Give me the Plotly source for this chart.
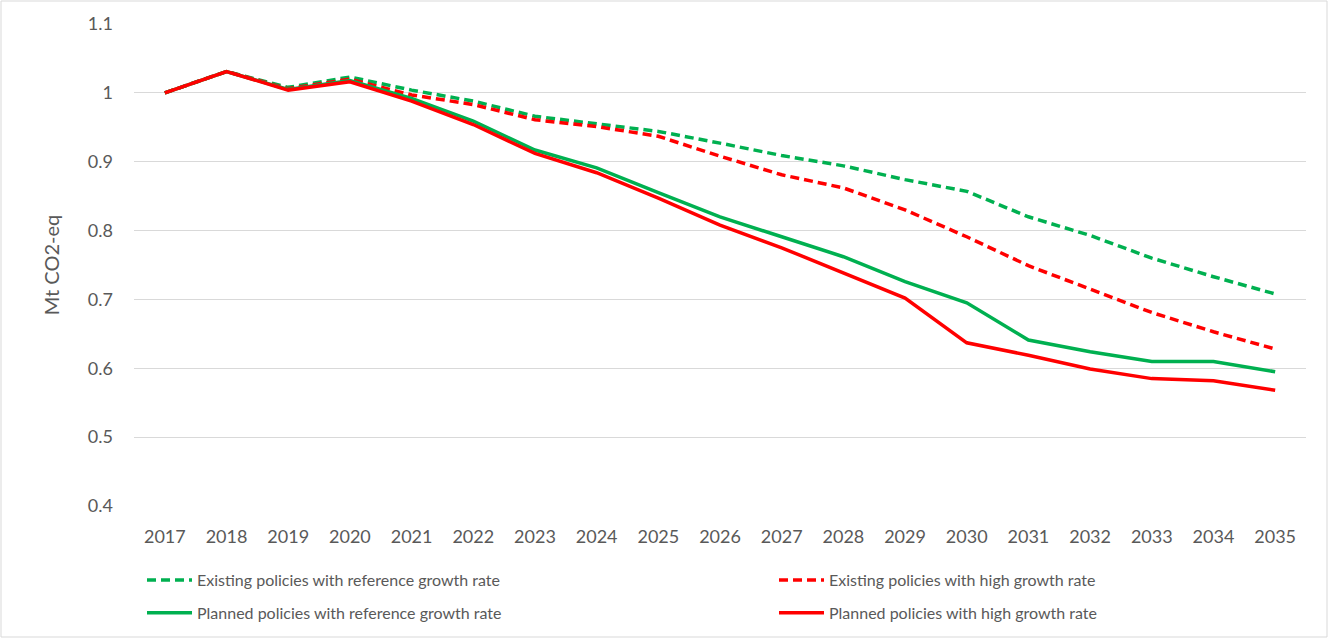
import plotly.graph_objects as go

years = [str(y) for y in range(2017, 2036)]

existing_ref = [1.000, 1.031, 1.008, 1.023, 1.004, 0.988, 0.966, 0.955, 0.944, 0.927,
                0.909, 0.894, 0.874, 0.857, 0.820, 0.793, 0.760, 0.733, 0.708]
existing_high = [1.000, 1.031, 1.006, 1.020, 0.997, 0.983, 0.961, 0.951, 0.937, 0.908,
                 0.881, 0.862, 0.830, 0.791, 0.749, 0.715, 0.681, 0.653, 0.628]
planned_ref = [1.000, 1.031, 1.005, 1.018, 0.992, 0.959, 0.917, 0.891, 0.855, 0.820,
               0.791, 0.762, 0.726, 0.695, 0.641, 0.624, 0.610, 0.610, 0.595]
planned_high = [1.000, 1.031, 1.004, 1.016, 0.988, 0.954, 0.912, 0.884, 0.847, 0.808,
                0.775, 0.738, 0.702, 0.637, 0.619, 0.599, 0.585, 0.582, 0.568]

y_ticks = [0.4, 0.5, 0.6, 0.7, 0.8, 0.9, 1.0, 1.1]
y_tick_text = ["0.4", "0.5", "0.6", "0.7", "0.8", "0.9", "1", "1.1"]

GREEN = "#00b050"
RED = "#ff0000"
TEXT = "#595959"
GRID = "#d9d9d9"
FONT = "Lato"

# name, values, colour, dash, legend column
series = [
    ("Existing policies with reference growth rate", existing_ref, GREEN, "9px,5px", "legend"),
    ("Existing policies with high growth rate", existing_high, RED, "9px,5px", "legend2"),
    ("Planned policies with reference growth rate", planned_ref, GREEN, "solid", "legend"),
    ("Planned policies with high growth rate", planned_high, RED, "solid", "legend2"),
]

fig = go.Figure()
for i, (name, vals, color, dash, leg) in enumerate(series):
    fig.add_trace(go.Scatter(
        x=years, y=vals, name=name, mode="lines",
        line=dict(color=color, width=3.5, dash=dash),
        legend=leg, legendgroup=f"g{i}",
    ))

W, H = 1329, 639
ml, mr, mt, mb = 134, 23, 24, 133
pw, ph = W - ml - mr, H - mt - mb


def px_x(x):
    return (x - ml) / pw


def px_y(y):
    return (H - mb - y) / ph


legend_common = dict(
    orientation="v", xanchor="left", yanchor="top", y=px_y(563),
    font=dict(family=FONT, size=16, color=TEXT),
    itemwidth=45, tracegroupgap=9, bgcolor="rgba(0,0,0,0)",
)

fig.update_layout(
    width=W, height=H,
    margin=dict(l=ml, r=mr, t=mt, b=mb, pad=0, autoexpand=False),
    paper_bgcolor="white", plot_bgcolor="white",
    font=dict(family=FONT, size=18, color=TEXT),
    showlegend=True,
    legend=dict(x=px_x(142), **legend_common),
    legend2=dict(x=px_x(774), **legend_common),
    shapes=[dict(
        type="rect", xref="paper", yref="paper",
        x0=px_x(1), x1=px_x(W - 2),
        y0=px_y(H - 2), y1=px_y(1),
        line=dict(color=GRID, width=1), fillcolor="rgba(0,0,0,0)", layer="below",
    )],
)

fig.update_xaxes(
    type="category", categoryorder="array", categoryarray=years,
    range=[-0.5, len(years) - 0.5],
    showgrid=False, showline=False, zeroline=False,
    ticks="", ticklabelstandoff=18,
    tickfont=dict(family=FONT, size=18, color=TEXT),
)
fig.update_yaxes(
    range=[0.4, 1.1], tickvals=y_ticks, ticktext=y_tick_text,
    showgrid=True, gridcolor=GRID, gridwidth=1,
    showline=False, zeroline=False, ticks="", ticklabelstandoff=20,
    tickfont=dict(family=FONT, size=18, color=TEXT),
    title=dict(text="Mt CO2-eq", font=dict(family=FONT, size=20, color=TEXT), standoff=22),
)

fig.write_html("out.html")
